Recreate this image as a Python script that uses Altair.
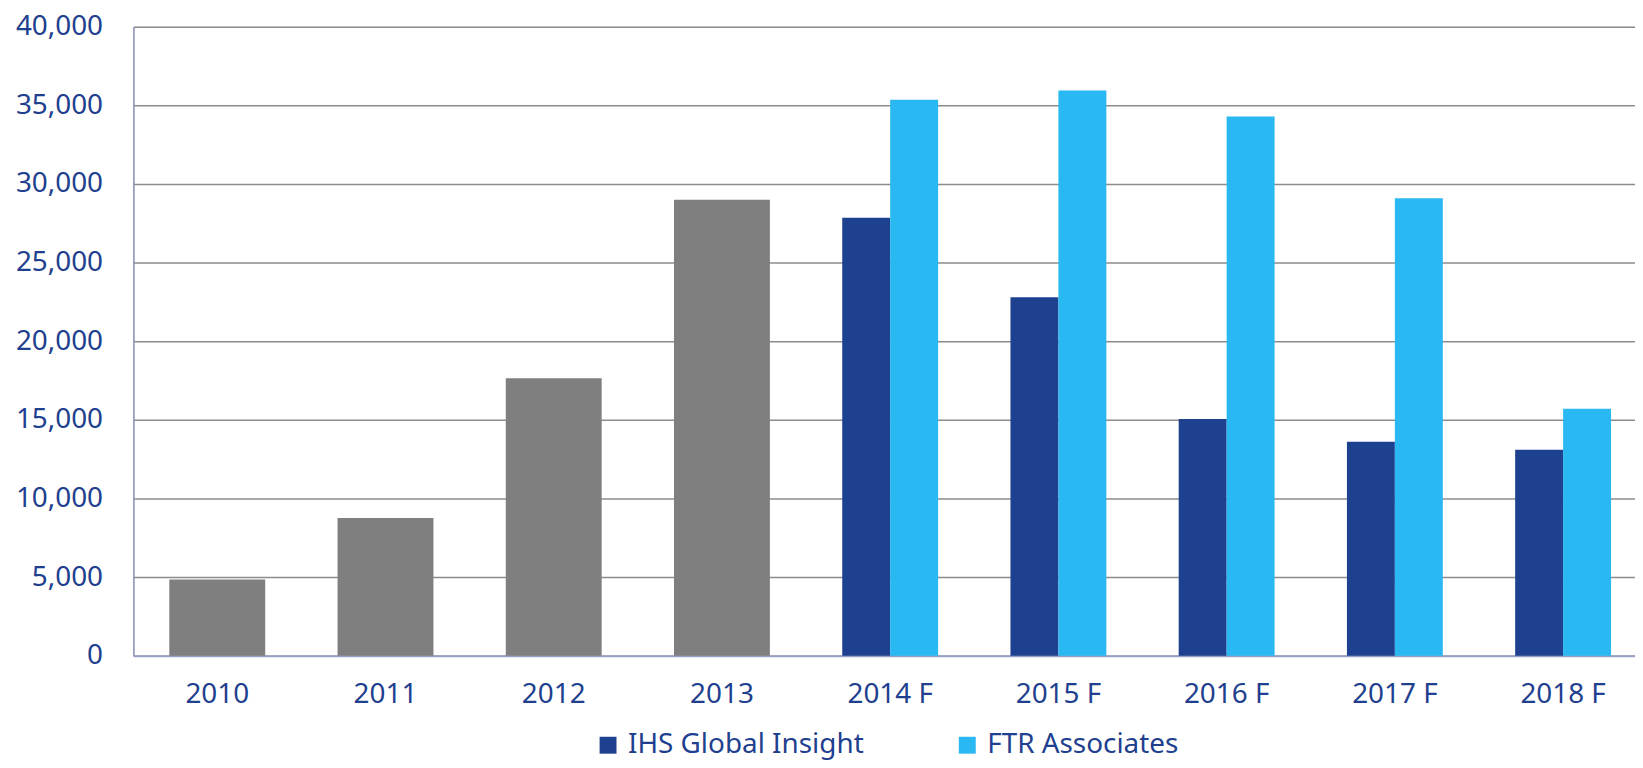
import altair as alt
import pandas as pd

years = ["2010", "2011", "2012", "2013", "2014 F", "2015 F", "2016 F", "2017 F", "2018 F"]
actual_years = ["2010", "2011", "2012", "2013"]
actual_values = [4850, 8750, 17650, 29000]
forecast_years = ["2014 F", "2015 F", "2016 F", "2017 F", "2018 F"]
ihs_values = [27850, 22800, 15050, 13600, 13100]
ftr_values = [35350, 35950, 34300, 29100, 15700]
series_names = ["IHS Global Insight", "FTR Associates"]
series_colors = ["#1E418F", "#29B8F2"]
y_ticks = [0, 5000, 10000, 15000, 20000, 25000, 30000, 35000, 40000]

actual_df = pd.DataFrame({"year": actual_years, "value": actual_values})
fc_rows = []
for i, y in enumerate(forecast_years):
    fc_rows.append({"year": y, "series": series_names[0], "value": ihs_values[i]})
    fc_rows.append({"year": y, "series": series_names[1], "value": ftr_values[i]})
forecast_df = pd.DataFrame(fc_rows)

TEXT = "#1F3F8F"
FONT = "Noto Sans"

x_enc = alt.X(
    "year:N",
    sort=years,
    scale=alt.Scale(domain=years, paddingInner=0.43, paddingOuter=0.178, align=0.6),
    axis=alt.Axis(
        title=None, labelAngle=0, ticks=False, labelFontSize=28, labelColor=TEXT,
        labelFont=FONT, labelPadding=25, domainColor="#9AA0C4", domainWidth=2,
        grid=False,
    ),
)
y_enc = alt.Y(
    "value:Q",
    scale=alt.Scale(domain=[0, 40000], nice=False),
    axis=alt.Axis(
        title=None, values=y_ticks, format=",d", ticks=False, labelFontSize=28,
        labelColor=TEXT, labelFont=FONT, labelPadding=31, domainColor="#8A91B8",
        domainWidth=1.5, grid=True, gridColor="#8C8C8C", gridWidth=1.5,
    ),
)

gray = alt.Chart(actual_df).mark_bar(color="#7F7F7F").encode(x=x_enc, y=y_enc)

fc = alt.Chart(forecast_df).mark_bar().encode(
    x=x_enc,
    y=y_enc,
    xOffset=alt.XOffset("series:N", sort=series_names, scale=alt.Scale(domain=series_names, paddingInner=0, paddingOuter=0)),
    color=alt.Color(
        "series:N",
        sort=series_names,
        scale=alt.Scale(domain=series_names, range=series_colors),
        legend=alt.Legend(
            title=None, orient="none", legendX=463, legendY=708, direction="horizontal",
            columns=2, columnPadding=90, symbolType="square", symbolSize=289,
            symbolStrokeWidth=0, symbolOpacity=1, labelFontSize=28, labelColor=TEXT,
            labelFont=FONT, labelOffset=6, labelLimit=0, padding=0,
        ),
    ),
)

chart = alt.layer(gray, fc).properties(
    width=1509,
    height=632,
    autosize=alt.AutoSizeParams(type="none"),
    padding={"left": 126, "top": 17, "right": 0, "bottom": 103},
).configure_view(stroke=None).configure(background="white")

chart.save("out.html", embed_options={"renderer": "svg", "actions": False})
